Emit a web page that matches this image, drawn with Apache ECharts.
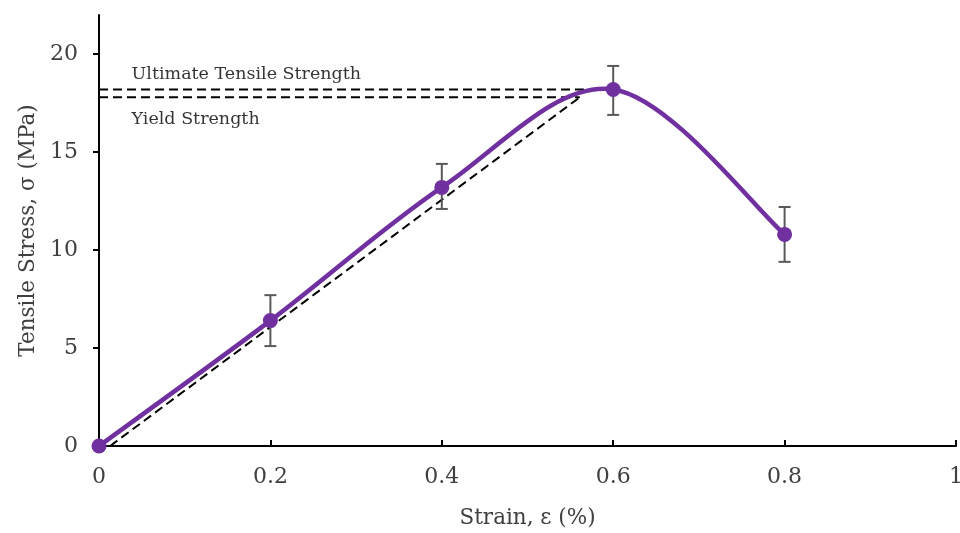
<!DOCTYPE html>
<html>
<head>
<meta charset="utf-8">
<script src="https://cdn.jsdelivr.net/npm/echarts@6/dist/echarts.min.js"></script>
<style>html,body{margin:0;padding:0;background:#fff}#c{width:960px;height:533px}</style>
</head>
<body>
<div id="c"></div>
<script>
// ---- data ----
const strain = [0, 0.2, 0.4, 0.6, 0.8];
const stress = [0, 6.4, 13.2, 18.2, 10.8];
const errLow = [null, 5.1, 12.1, 16.9, 9.4];
const errHigh = [null, 7.7, 14.4, 19.4, 12.2];
const utsValue = 18.2;
const utsStrain = 0.6;
const yieldValue = 17.8;
const offsetStart = 0.013;
const offsetEnd = 0.561;
const xTicks = [0, 0.2, 0.4, 0.6, 0.8, 1];
const yTicks = [0, 5, 10, 15, 20];
const labelUTS = 'Ultimate Tensile Strength';
const labelYield = 'Yield Strength';

const FONT = 'DejaVu Serif';
const purple = '#7030A0';

const mainData = strain.map((s, i) => [s, stress[i]]);
const errData = [];
strain.forEach((s, i) => { if (errLow[i] != null) errData.push([s, errLow[i], errHigh[i]]); });

const chart = echarts.init(document.getElementById('c'));
chart.setOption({
  animation: false,
  backgroundColor: '#fff',
  grid: { left: 99, right: 4, top: 15, bottom: 87, containLabel: false, outerBoundsMode: 'none' },
  xAxis: {
    type: 'value', min: 0, max: 1, interval: 0.2,
    name: 'Strain, ε (%)', nameLocation: 'middle', nameGap: 61,
    nameTextStyle: { fontFamily: FONT, fontSize: 21.5, color: '#404040' },
    axisLine: { lineStyle: { color: '#000', width: 2 } },
    axisTick: { show: true, inside: true, length: 6, lineStyle: { color: '#000', width: 2 } },
    axisLabel: { fontFamily: FONT, fontSize: 22, color: '#404040', margin: 20,
      customValues: xTicks },
    splitLine: { show: false }
  },
  yAxis: {
    type: 'value', min: 0, max: 22,
    name: 'Tensile Stress, σ (MPa)', nameLocation: 'middle', nameGap: 60,
    nameTextStyle: { fontFamily: FONT, fontSize: 21.5, color: '#404040' },
    axisLine: { show: true, lineStyle: { color: '#000', width: 2 } },
    axisTick: { show: true, length: 6, lineStyle: { color: '#000', width: 2 }, customValues: yTicks },
    axisLabel: { fontFamily: FONT, fontSize: 22, color: '#404040', margin: 21, customValues: yTicks },
    splitLine: { show: false }
  },
  series: [
    {
      type: 'line', name: 'uts', silent: true, symbol: 'none', z: 1,
      data: [[0, utsValue], [utsStrain, utsValue]],
      lineStyle: { color: '#000', width: 2, type: [9, 5] }
    },
    {
      type: 'line', name: 'yield', silent: true, symbol: 'none', z: 1,
      data: [[0, yieldValue], [offsetEnd, yieldValue]],
      lineStyle: { color: '#000', width: 2, type: [9, 5] }
    },
    {
      type: 'line', name: 'offset', silent: true, symbol: 'none', z: 1,
      data: [[offsetStart, 0], [offsetEnd, yieldValue]],
      lineStyle: { color: '#000', width: 2, type: [9, 5] }
    },
    {
      type: 'custom', name: 'err', z: 2,
      data: errData,
      renderItem: function (params, api) {
        const x = api.value(0);
        const lo = api.coord([x, api.value(1)]);
        const hi = api.coord([x, api.value(2)]);
        const w = 6;
        const st = { stroke: '#595959', lineWidth: 2 };
        return { type: 'group', children: [
          { type: 'line', shape: { x1: lo[0], y1: lo[1], x2: hi[0], y2: hi[1] }, style: st },
          { type: 'line', shape: { x1: lo[0] - w, y1: lo[1], x2: lo[0] + w, y2: lo[1] }, style: st },
          { type: 'line', shape: { x1: hi[0] - w, y1: hi[1], x2: hi[0] + w, y2: hi[1] }, style: st }
        ]};
      }
    },
    {
      // smooth curve (Catmull-Rom style, like a spreadsheet smoothed line) through the data points
      type: 'custom', name: 'curve', z: 3, silent: true,
      data: [0],
      renderItem: function (params, api) {
        const p = mainData.map(d => api.coord(d));
        const n = p.length;
        let path = 'M' + p[0][0] + ' ' + p[0][1];
        for (let i = 0; i < n - 1; i++) {
          const p0 = p[i - 1] || p[i];
          const p1 = p[i];
          const p2 = p[i + 1];
          const p3 = p[i + 2] || p[i + 1];
          const t = 6;
          const c1 = [p1[0] + (p2[0] - p0[0]) / t, p1[1] + (p2[1] - p0[1]) / t];
          const c2 = [p2[0] - (p3[0] - p1[0]) / t, p2[1] - (p3[1] - p1[1]) / t];
          path += ' C' + c1[0] + ' ' + c1[1] + ' ' + c2[0] + ' ' + c2[1] + ' ' + p2[0] + ' ' + p2[1];
        }
        return { type: 'path', shape: { pathData: path },
          style: { stroke: purple, lineWidth: 4.5, fill: null, lineCap: 'round' } };
      }
    },
    {
      type: 'scatter', name: 'stress', z: 4,
      data: mainData,
      symbol: 'circle', symbolSize: 15,
      itemStyle: { color: purple, opacity: 1 }
    },
    {
      type: 'scatter', name: 'labels', silent: true, z: 5, symbolSize: 0,
      data: [
        { value: [0.038, utsValue], label: { show: true, formatter: labelUTS, position: 'top', align: 'left', offset: [0, -1] } },
        { value: [0.038, yieldValue], label: { show: true, formatter: labelYield, position: 'bottom', align: 'left', offset: [0, 8] } }
      ],
      label: { fontFamily: FONT, fontSize: 17.5, color: '#000' }
    }
  ]
});
</script>
</body>
</html>
